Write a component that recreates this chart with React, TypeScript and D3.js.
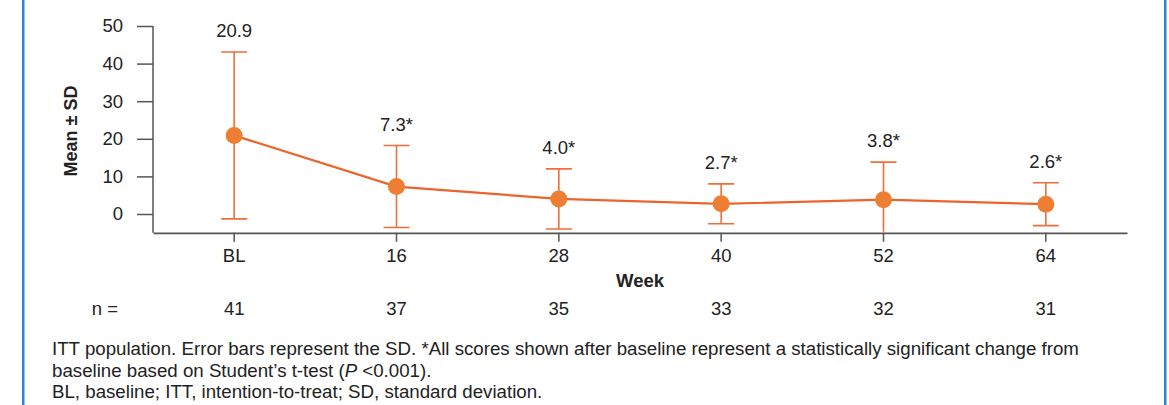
import React, { useEffect, useRef } from 'react';
import * as d3 from 'd3';

// chart data
const weeks = ['BL', '16', '28', '40', '52', '64'];
const means = [20.9, 7.3, 4.0, 2.7, 3.8, 2.6];
const sds = [22.2, 10.9, 8.0, 5.3, 10.0, 5.7];
const valueLabels = ['20.9', '7.3*', '4.0*', '2.7*', '3.8*', '2.6*'];
const nCounts = [41, 37, 35, 33, 32, 31];
const yTicks = [0, 10, 20, 30, 40, 50];
const footnotes = [
  'ITT population. Error bars represent the SD. *All scores shown after baseline represent a statistically significant change from',
  'baseline based on Student\u2019s t-test (|P| <0.001).',
  'BL, baseline; ITT, intention-to-treat; SD, standard deviation.',
];

const FONT = '"Liberation Sans", Arial, sans-serif';
const FS = 18.5;
const ORANGE_LINE = '#EB642A';
const ORANGE_DOT = '#EE7E33';
const ORANGE_BAR = '#F06E3A';
const AXIS = '#555555';
const TEXT = '#222222';

const App = () => {
  const svgRef = useRef<SVGSVGElement>(null);

  useEffect(() => {
    const width = 1169;
    const height = 405;
    const svg = d3.select(svgRef.current)
      .attr('width', width)
      .attr('height', height);
    svg.selectAll('*').remove();

    // blue frame edges
    svg.append('rect').attr('x', 22).attr('y', 0).attr('width', 2.5).attr('height', height).attr('fill', '#2B87CF');
    svg.append('rect').attr('x', 1164).attr('y', 0).attr('width', 2.5).attr('height', height).attr('fill', '#2B87CF');

    const left = 153;
    const right = 1127;
    const top = 26;
    const bottom = 232.8;

    const x = d3.scaleBand<string>().domain(weeks).range([left, right]).padding(0);
    const cx = (w: string) => (x(w) as number) + x.bandwidth() / 2;
    const y = d3.scaleLinear().domain([-5, 50]).range([bottom, top]);

    // y axis
    const yAxis = d3.axisLeft(y).tickValues(yTicks).tickSize(16).tickSizeOuter(0).tickPadding(14);
    const gy = svg.append('g').attr('transform', `translate(${left},0)`).call(yAxis);
    gy.select('.domain').remove();
    gy.append('line').attr('x1', 0).attr('x2', 0).attr('y1', top).attr('y2', bottom).attr('stroke', AXIS).attr('stroke-width', 1.5);
    gy.selectAll('.tick line').attr('stroke', AXIS).attr('stroke-width', 1.5);
    gy.selectAll('.tick text').attr('fill', TEXT).attr('font-size', FS).attr('font-family', FONT);

    // x axis
    const xAxis = d3.axisBottom(x).tickSize(9).tickSizeOuter(0).tickPadding(7);
    const gx = svg.append('g').attr('transform', `translate(0,${bottom})`).call(xAxis);
    gx.select('.domain').attr('stroke', AXIS).attr('stroke-width', 1.8);
    gx.selectAll('.tick line').attr('stroke', AXIS).attr('stroke-width', 1.5);
    gx.selectAll('.tick text').attr('fill', TEXT).attr('font-size', FS).attr('font-family', FONT);

    // axis titles
    svg.append('text')
      .attr('transform', `translate(76.5,131) rotate(-90)`)
      .attr('text-anchor', 'middle')
      .attr('font-family', FONT)
      .attr('font-weight', 'bold')
      .attr('font-size', 18)
      .attr('fill', TEXT)
      .text('Mean \u00b1 SD');

    svg.append('text')
      .attr('x', (left + right) / 2)
      .attr('y', 287)
      .attr('text-anchor', 'middle')
      .attr('font-family', FONT)
      .attr('font-weight', 'bold')
      .attr('font-size', FS)
      .attr('fill', TEXT)
      .text('Week');

    // error bars (clipped at axis)
    const clipId = 'plot-clip';
    svg.append('clipPath').attr('id', clipId)
      .append('rect').attr('x', left).attr('y', 0).attr('width', right - left).attr('height', bottom - 1);

    const bars = svg.append('g').attr('clip-path', `url(#${clipId})`)
      .selectAll('g.err')
      .data(weeks)
      .enter()
      .append('g')
      .attr('class', 'err');

    bars.append('line')
      .attr('x1', d => cx(d)).attr('x2', d => cx(d))
      .attr('y1', (d, i) => y(means[i] + sds[i]))
      .attr('y2', (d, i) => y(means[i] - sds[i]))
      .attr('stroke', ORANGE_BAR).attr('stroke-width', 1.6);
    [1, -1].forEach(sign => {
      bars.append('line')
        .attr('x1', d => cx(d) - 13).attr('x2', d => cx(d) + 13)
        .attr('y1', (d, i) => y(means[i] + sign * sds[i]))
        .attr('y2', (d, i) => y(means[i] + sign * sds[i]))
        .attr('stroke', ORANGE_BAR).attr('stroke-width', 1.6);
    });

    // mean line
    const line = d3.line<string>()
      .x(d => cx(d))
      .y((d, i) => y(means[i]));
    svg.append('path')
      .datum(weeks)
      .attr('d', line)
      .attr('fill', 'none')
      .attr('stroke', ORANGE_LINE)
      .attr('stroke-width', 2.2);

    svg.selectAll('circle.pt')
      .data(weeks)
      .enter()
      .append('circle')
      .attr('class', 'pt')
      .attr('cx', d => cx(d))
      .attr('cy', (d, i) => y(means[i]))
      .attr('r', 8.5)
      .attr('fill', ORANGE_DOT);

    // value labels above the error bars
    svg.selectAll('text.val')
      .data(weeks)
      .enter()
      .append('text')
      .attr('class', 'val')
      .attr('x', d => cx(d))
      .attr('y', (d, i) => y(means[i] + sds[i]) - 15)
      .attr('text-anchor', 'middle')
      .attr('font-family', FONT)
      .attr('font-size', FS)
      .attr('fill', TEXT)
      .text((d, i) => valueLabels[i]);

    // n row
    svg.append('text')
      .attr('x', 118).attr('y', 315)
      .attr('text-anchor', 'end')
      .attr('font-family', FONT).attr('font-size', FS).attr('fill', TEXT)
      .text('n =');
    svg.selectAll('text.n')
      .data(weeks)
      .enter()
      .append('text')
      .attr('class', 'n')
      .attr('x', d => cx(d))
      .attr('y', 315)
      .attr('text-anchor', 'middle')
      .attr('font-family', FONT).attr('font-size', FS).attr('fill', TEXT)
      .text((d, i) => nCounts[i]);

    // footnotes
    const fn = svg.append('g');
    footnotes.forEach((t, i) => {
      const txt = fn.append('text')
        .attr('x', 52)
        .attr('y', 355 + i * 21.7)
        .attr('font-family', FONT).attr('font-size', 18.7).attr('fill', TEXT);
      t.split('|').forEach((part, j) => {
        txt.append('tspan')
          .attr('font-style', j % 2 === 1 ? 'italic' : 'normal')
          .text(part);
      });
    });
  }, []);

  return <svg ref={svgRef} style={{ position: 'absolute', left: 0, top: 0, background: '#fff' }} />;
};

export default App;
